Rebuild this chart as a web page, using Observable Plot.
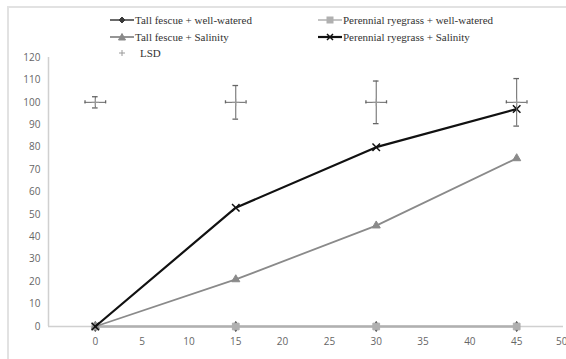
<!DOCTYPE html>
<html>
<head>
<meta charset="utf-8">
<script src="https://cdn.jsdelivr.net/npm/d3@7"></script>
<script src="https://cdn.jsdelivr.net/npm/@observablehq/plot@0.6"></script>
<style>
  html, body { margin: 0; padding: 0; background: #fff; }
  #wrap { position: relative; width: 566px; height: 359px; overflow: hidden; }
  #frame { position: absolute; left: 7px; top: 6px; width: 600px; height: 400px; border-left: 2px solid #e2e2e2; border-top: 2px solid #e2e2e2; box-sizing: border-box; }
  #legend { position: relative; height: 50px; font-family: "Liberation Serif", "Times New Roman", serif; font-size: 11px; color: #333; }
  .item { position: absolute; display: flex; align-items: center; height: 14px; white-space: nowrap; }
  .item svg { margin-right: 1px; }
  #chart { position: absolute; left: 0; top: 50px; }
</style>
</head>
<body>
<div id="wrap">
  <div id="frame"></div>
  <div id="legend"></div>
  <div id="chart"></div>
</div>
<script>
// ---- data ----
const days = [0, 15, 30, 45];
const tallFescueWellWatered = [0, 0, 0, 0];
const perennialRyegrassWellWatered = [0, 0, 0, 0];
const tallFescueSalinity = [0, 21, 45, 75];
const perennialRyegrassSalinity = [0, 53, 80, 97];
const lsdY = [100, 100, 100, 100];
const lsdYErr = [2.5, 7.5, 9.5, 10.6];
const lsdXErr = [1.1, 1.1, 1.1, 1.1];
const xTicks = [0, 5, 10, 15, 20, 25, 30, 35, 40, 45];
const xLastTick = [50];
const yTicks = [0, 10, 20, 30, 40, 50, 60, 70, 80, 90, 100, 110, 120];

const seriesNames = [
  "Tall fescue + well-watered",
  "Perennial ryegrass + well-watered",
  "Tall fescue + Salinity",
  "Perennial ryegrass + Salinity",
  "LSD"
];
const seriesColors = ["#3a3a3a", "#b0b0b0", "#8a8a8a", "#111111", "#9a9a9a"];
const seriesSymbols = ["diamond", "square", "triangle", "times", "plus"];
const seriesWidths = [1.5, 1.5, 1.8, 2.2, 0];

const valuesBySeries = [tallFescueWellWatered, perennialRyegrassWellWatered, tallFescueSalinity, perennialRyegrassSalinity];
const rows = [];
valuesBySeries.forEach((vals, i) => days.forEach((d, j) => rows.push({series: seriesNames[i], idx: i, x: d, y: vals[j]})));
const lsd = days.map((d, j) => ({x: d, y: lsdY[j], ey: lsdYErr[j], ex: lsdXErr[j]}));

const axisFont = {fontSize: 10, fill: "#666"};
const marks = [
  Plot.ruleY([0], {x1: -5, x2: 50, stroke: "#d0d0d0", strokeWidth: 1.5}),
  Plot.ruleX([-5], {y1: 0, y2: 120, stroke: "#d0d0d0", strokeWidth: 1.5}),
  Plot.axisX(xTicks, {tickSize: 0, tickPadding: 11, label: null}),
  Plot.axisX(xLastTick, {tickSize: 0, tickPadding: 11, label: null, textAnchor: "end", dx: 4}),
  Plot.axisY(yTicks, {tickSize: 0, tickPadding: 8, label: null})
];
valuesBySeries.forEach((vals, i) => {
  const data = rows.filter(r => r.idx === i);
  marks.push(Plot.line(data, {x: "x", y: "y", stroke: seriesColors[i], strokeWidth: seriesWidths[i]}));
  marks.push(Plot.dot(data, {x: "x", y: "y", symbol: seriesSymbols[i], r: i === 3 ? 3.5 : (i === 1 ? 3.8 : 3), fill: i === 3 ? "none" : seriesColors[i], stroke: seriesColors[i], strokeWidth: i === 3 ? 1.5 : 1}));
});
// LSD error bars
const ebColor = "#666";
marks.push(Plot.ruleX(lsd, {x: "x", y1: d => d.y - d.ey, y2: d => d.y + d.ey, stroke: ebColor, strokeWidth: 1}));
marks.push(Plot.ruleY(lsd, {y: "y", x1: d => d.x - d.ex, x2: d => d.x + d.ex, stroke: ebColor, strokeWidth: 1}));
marks.push(Plot.ruleY(lsd, {y: d => d.y - d.ey, x1: d => d.x - 0.3, x2: d => d.x + 0.3, stroke: ebColor, strokeWidth: 1.3}));
marks.push(Plot.ruleY(lsd, {y: d => d.y + d.ey, x1: d => d.x - 0.3, x2: d => d.x + 0.3, stroke: ebColor, strokeWidth: 1.3}));
marks.push(Plot.ruleX(lsd, {x: d => d.x - d.ex, y1: d => d.y - 0.7, y2: d => d.y + 0.7, stroke: ebColor, strokeWidth: 1.3}));
marks.push(Plot.ruleX(lsd, {x: d => d.x + d.ex, y1: d => d.y - 0.7, y2: d => d.y + 0.7, stroke: ebColor, strokeWidth: 1.3}));
marks.push(Plot.dot(lsd, {x: "x", y: "y", symbol: "plus", r: 2.5, stroke: seriesColors[4], strokeWidth: 1}));

const chart = Plot.plot({
  width: 566,
  height: 309,
  marginLeft: 48,
  marginRight: 3,
  marginTop: 7,
  marginBottom: 33,
  style: {fontFamily: "'Open Sans', 'DejaVu Sans', sans-serif", fontSize: "10px", color: "#666", background: "transparent", overflow: "visible"},
  x: {domain: [-5, 50], axis: null},
  y: {domain: [0, 120], axis: null},
  marks
});
document.getElementById("chart").appendChild(chart);

// ---- legend (HTML) ----
const legend = document.getElementById("legend");
const positions = [[110, 13], [318, 13], [110, 30], [318, 30], [110, 46]];
const symbolPaths = {
  diamond: '<path d="M12,4 L15,7 L12,10 L9,7 Z" fill="C" stroke="C"/>',
  square: '<rect x="9" y="4" width="6" height="6" fill="C" stroke="C"/>',
  triangle: '<path d="M12,3.5 L15.5,10 L8.5,10 Z" fill="C" stroke="C"/>',
  times: '<path d="M9,4 L15,10 M15,4 L9,10" stroke="C" stroke-width="1.5"/>',
  plus: '<path d="M12,4 L12,10 M9,7 L15,7" stroke="C" stroke-width="1"/>'
};
seriesNames.forEach((name, i) => {
  const div = document.createElement("div");
  div.className = "item";
  div.style.left = positions[i][0] + "px";
  div.style.top = positions[i][1] + "px";
  const c = seriesColors[i];
  const line = seriesWidths[i] > 0 ? `<line x1="0" y1="7" x2="24" y2="7" stroke="${c}" stroke-width="${seriesWidths[i]}"/>` : "";
  div.innerHTML = `<svg width="24" height="14">${line}${symbolPaths[seriesSymbols[i]].replace(/C/g, c)}</svg><span>${name}</span>`;
  if (i === 4) div.querySelector("svg").style.marginRight = "6px";
  legend.appendChild(div);
});
</script>
</body>
</html>
